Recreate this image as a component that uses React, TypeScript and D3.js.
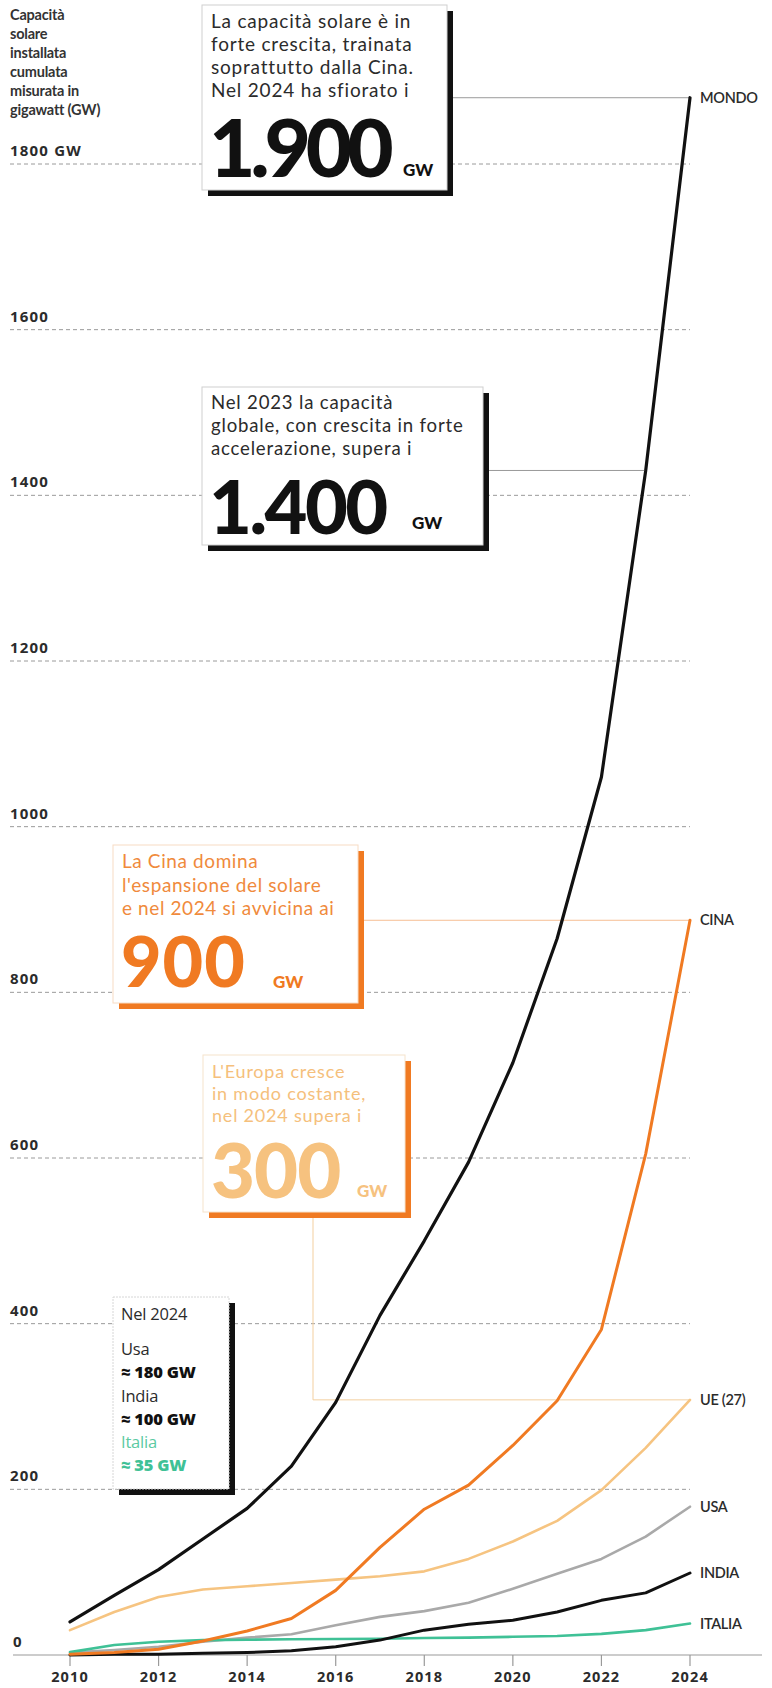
import React from "react";
import * as d3 from "d3";

const years = [2010, 2011, 2012, 2013, 2014, 2015, 2016, 2017, 2018, 2019, 2020, 2021, 2022, 2023, 2024];
const mondo = [40, 72, 103, 140, 177, 228, 305, 410, 500, 595, 715, 865, 1060, 1430, 1880];
const cina = [1, 3, 7, 17, 29, 44, 78, 130, 176, 205, 253, 307, 393, 605, 887];
const ue = [30, 52, 70, 79, 83, 87, 91, 95, 101, 116, 137, 162, 199, 250, 308];
const usa = [3, 6, 10, 16, 21, 25, 36, 46, 53, 63, 80, 98, 116, 143, 179];
const india = [0, 1, 1, 2, 3, 5, 10, 18, 30, 37, 42, 52, 66, 75, 99];
const italia = [3.5, 12, 16, 18, 18.5, 19, 19.3, 19.7, 20.5, 21, 22, 23, 25.5, 30, 38];

const yTicks = [0, 200, 400, 600, 800, 1000, 1200, 1400, 1600, 1800];
const yTickLabels = ["0", "200", "400", "600", "800", "1000", "1200", "1400", "1600", "1800 GW"];
const xTicks = [2010, 2012, 2014, 2016, 2018, 2020, 2022, 2024];

const titleLines = ["Capacità", "solare", "installata", "cumulata", "misurata in", "gigawatt (GW)"];

const FONT = "Lato, 'Open Sans', sans-serif";
const BODY = "'Open Sans', Lato, sans-serif";

export default function App() {
  const W = 772, H = 1688;
  const x = d3.scaleLinear().domain([2010, 2024]).range([70, 690]);
  const y = d3.scaleLinear().domain([0, 1800]).range([1655, 164]);
  const line = d3.line<number>().x((_, i) => x(years[i])).y((d) => y(d)).curve(d3.curveLinear);

  const series = [
    { name: "UE (27)", data: ue, color: "#f6c481", w: 2.6 },
    { name: "USA", data: usa, color: "#a9a9a9", w: 2.6 },
    { name: "ITALIA", data: italia, color: "#3fc196", w: 2.6 },
    { name: "INDIA", data: india, color: "#111", w: 3 },
    { name: "CINA", data: cina, color: "#f07a22", w: 3 },
    { name: "MONDO", data: mondo, color: "#111", w: 3.2 },
  ];
  const last = years.length - 1;
  const xEnd = x(years[last]);

  return (
    <div style={{ position: "absolute", left: 0, top: 0, width: W, height: H, background: "#fff" }}>
      <svg width={W} height={H} style={{ display: "block", fontFamily: FONT }}>
        <rect width={W} height={H} fill="#fff" />
        {/* title */}
        {titleLines.map((t, i) => (
          <text key={t} x={10} y={20 + i * 19} fontSize={14.5} fontWeight={700} fill="#333" letterSpacing={-0.2}>
            {t}
          </text>
        ))}
        {/* grid */}
        {yTicks.map((v, i) => (
          <g key={v}>
            {v > 0 && (
              <line x1={10} x2={xEnd} y1={y(v)} y2={y(v)} stroke="#9a9a9a" strokeWidth={1} strokeDasharray="4 3" />
            )}
            <text x={v === 0 ? 13 : 10} y={y(v) - 8} fontSize={15} fontWeight={700} fill="#2b2b2b" letterSpacing={1.2} fontFamily={BODY}>
              {yTickLabels[i]}
            </text>
          </g>
        ))}
        {/* x axis */}
        <line x1={13} x2={762} y1={y(0)} y2={y(0)} stroke="#9a9a9a" strokeWidth={1.2} />
        {xTicks.map((t) => (
          <g key={t}>
            <line x1={x(t)} x2={x(t)} y1={y(0)} y2={y(0) + 11} stroke="#9a9a9a" strokeWidth={1.2} />
            <text x={x(t)} y={1682} textAnchor="middle" fontSize={14.5} fontWeight={700} fill="#2b2b2b" letterSpacing={1.1} fontFamily={BODY}>
              {t}
            </text>
          </g>
        ))}

        {/* connectors */}
        <line x1={453} x2={xEnd} y1={y(mondo[last])} y2={y(mondo[last])} stroke="#9a9a9a" strokeWidth={1} />
        <line x1={489} x2={x(2023)} y1={y(mondo[13])} y2={y(mondo[13])} stroke="#9a9a9a" strokeWidth={1} />
        <line x1={364} x2={xEnd} y1={y(cina[last])} y2={y(cina[last])} stroke="#f6bf93" strokeWidth={1} />
        <polyline
          points={`313,1216 313,${y(ue[last])} ${xEnd},${y(ue[last])}`}
          fill="none"
          stroke="#f3cf9f"
          strokeWidth={1}
        />

        {/* lines */}
        {series.map((s) => (
          <path key={s.name} d={line(s.data) || ""} fill="none" stroke={s.color} strokeWidth={s.w} strokeLinejoin="round" strokeLinecap="round" />
        ))}
        {/* series labels */}
        {series.map((s) => (
          <text key={s.name} x={700} y={y(s.data[last]) + 5} fontSize={14.5} fontWeight={600} fill="#2b2b2b" letterSpacing={-0.3}>
            {s.name}
          </text>
        ))}

        {/* Box 1: MONDO 1.900 */}
        <g>
          <rect x={208} y={11} width={245} height={185} fill="#111" />
          <rect x={202} y={5} width={245} height={185} fill="#fff" stroke="#cfcfcf" strokeWidth={1} />
          {["La capacità solare è in", "forte crescita, trainata", "soprattutto dalla Cina.", "Nel 2024 ha sfiorato i"].map((t, i) => (
            <text key={t} x={211} y={28 + i * 23} fontSize={19} fill="#2b2b2b" letterSpacing={0.8}>{t}</text>
          ))}
          <text x={209} y={177} fontSize={80} fontWeight={900} fill="#111" letterSpacing={-5}>1.900</text>
          <text x={403} y={176} fontSize={17} fontWeight={900} fill="#111">GW</text>
        </g>

        {/* Box 2: 1.400 */}
        <g>
          <rect x={208} y={393} width={281} height={158} fill="#111" />
          <rect x={202} y={387} width={281} height={158} fill="#fff" stroke="#cfcfcf" strokeWidth={1} />
          {["Nel 2023 la capacità", "globale, con crescita in forte", "accelerazione, supera i"].map((t, i) => (
            <text key={t} x={211} y={409 + i * 23} fontSize={18.6} fill="#2b2b2b" letterSpacing={0.8}>{t}</text>
          ))}
          <text x={209} y={534} fontSize={74} fontWeight={900} fill="#111" letterSpacing={-2.5}>1.400</text>
          <text x={412} y={529} fontSize={17} fontWeight={900} fill="#111">GW</text>
        </g>

        {/* Box 3: Cina 900 */}
        <g>
          <rect x={119} y={851} width={245} height={158} fill="#f07a22" />
          <rect x={113} y={845} width={245} height={158} fill="#fff" stroke="#f7dcc4" strokeWidth={1} />
          {["La Cina domina", "l'espansione del solare", "e nel 2024 si avvicina ai"].map((t, i) => (
            <text key={t} x={122} y={868 + i * 23.5} fontSize={19} fill="#f08a3c" letterSpacing={0.6}>{t}</text>
          ))}
          <text x={121} y={987} fontSize={70} fontWeight={900} fill="#f07a22" letterSpacing={1}>900</text>
          <text x={273} y={988} fontSize={17} fontWeight={900} fill="#f07a22">GW</text>
        </g>

        {/* Box 4: Europa 300 */}
        <g>
          <rect x={209} y={1061} width={202} height={157} fill="#f07a22" />
          <rect x={203} y={1055} width={202} height={157} fill="#fff" stroke="#f6e3cc" strokeWidth={1} />
          {["L'Europa cresce", "in modo costante,", "nel 2024 supera i"].map((t, i) => (
            <text key={t} x={212} y={1078 + i * 22} fontSize={18} fill="#f5c07c" letterSpacing={0.8}>{t}</text>
          ))}
          <text x={211} y={1198} fontSize={76} fontWeight={900} fill="#f6c27f" letterSpacing={-1}>300</text>
          <text x={357} y={1197} fontSize={17} fontWeight={900} fill="#f6c27f">GW</text>
        </g>

        {/* Box 5: Nel 2024 */}
        <g fontFamily={BODY}>
          <rect x={119} y={1303} width={116} height={192} fill="#111" />
          <rect x={113} y={1297} width={116} height={192} fill="#fff" stroke="#d6d6d6" strokeWidth={1} strokeDasharray="2 1" />
          <text x={121} y={1320} fontSize={16.5} fill="#2b2b2b" letterSpacing={-0.2}>Nel 2024</text>
          <text x={121} y={1355} fontSize={16.5} fill="#2b2b2b" letterSpacing={-0.2}>Usa</text>
          <text x={121} y={1378} fontSize={16.5} fontWeight={800} fill="#111" letterSpacing={-0.2}>≈ 180 GW</text>
          <text x={121} y={1402} fontSize={16.5} fill="#2b2b2b" letterSpacing={-0.2}>India</text>
          <text x={121} y={1425} fontSize={16.5} fontWeight={800} fill="#111" letterSpacing={-0.2}>≈ 100 GW</text>
          <text x={121} y={1448} fontSize={16.5} fill="#5ccaa2" letterSpacing={-0.2}>Italia</text>
          <text x={121} y={1471} fontSize={16.5} fontWeight={800} fill="#3fc196" letterSpacing={-0.2}>≈ 35 GW</text>
        </g>
      </svg>
    </div>
  );
}
